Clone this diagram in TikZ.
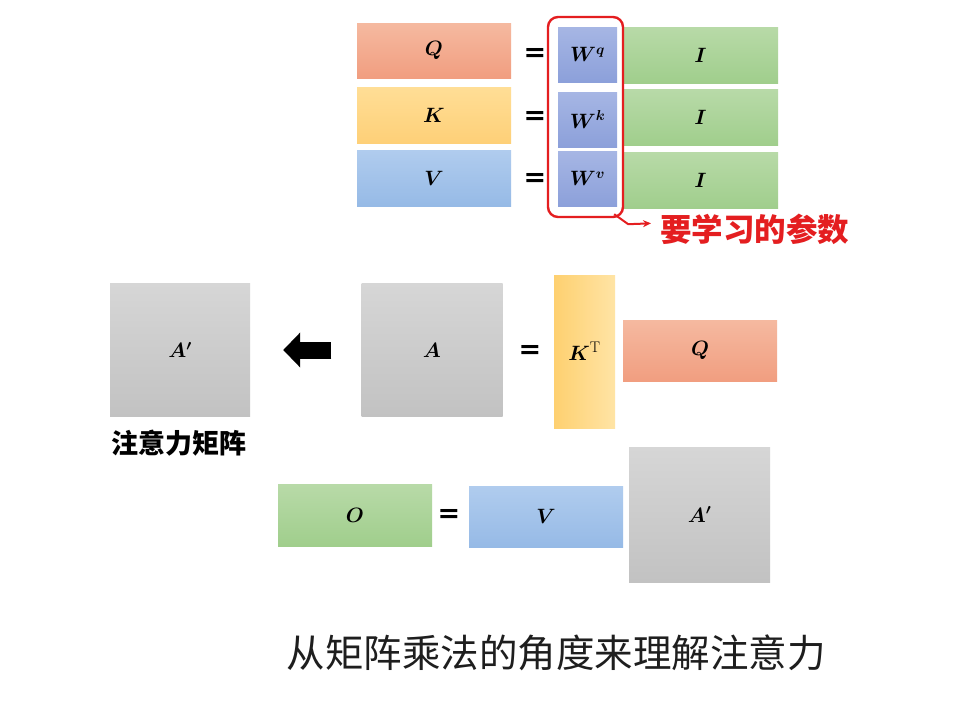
\documentclass[tikz,border=0pt]{standalone}
\usepackage{fontspec}
\usepackage{bm}
\usetikzlibrary{arrows.meta}
\newfontfamily\cjk{Noto Sans CJK SC}
\newfontfamily\eqfont{DejaVu Sans}
\definecolor{learnred}{RGB}{228,30,32}
\tikzset{
  mat/.style={inner sep=0pt, font=\fontsize{22}{24}\selectfont},
  qcol/.style={top color={rgb,255:red,245;green,185;blue,160}, bottom color={rgb,255:red,241;green,158;blue,128}},
  kcol/.style={top color={rgb,255:red,255;green,222;blue,150}, bottom color={rgb,255:red,254;green,208;blue,120}},
  vcol/.style={top color={rgb,255:red,176;green,204;blue,238}, bottom color={rgb,255:red,150;green,186;blue,230}},
  wcol/.style={top color={rgb,255:red,166;green,182;blue,228}, bottom color={rgb,255:red,140;green,160;blue,218}},
  icol/.style={top color={rgb,255:red,184;green,218;blue,168}, bottom color={rgb,255:red,160;green,206;blue,140}},
  gcol/.style={top color={rgb,255:red,214;green,214;blue,214}, bottom color={rgb,255:red,194;green,194;blue,194}},
  eqsign/.style={font=\eqfont\bfseries\fontsize{27}{27}\selectfont, inner sep=0pt},
  fatarrow/.style={line width=17pt, -{Triangle[length=17pt,width=34pt]}},
}
\begin{document}
\begin{tikzpicture}[x=1pt, y=-1pt]
	\fill[white] (0,0) rectangle (979,718);
	\useasboundingbox (0,0) rectangle (979,718);
	% Q, K, V = W I
	\node[mat, qcol, minimum width=154pt, minimum height=55pt] (q) at (434,50.5) {$\bm{Q}$};
	\node[mat, kcol, minimum width=154pt, minimum height=56pt] (k) at (434,115) {$\bm{K}$};
	\node[mat, vcol, minimum width=154pt, minimum height=56pt] (v) at (434,178) {$\bm{V}$};
	\node[eqsign] (eq1) at (535,55) {=};
	\node[eqsign] (eq2) at (535,118) {=};
	\node[eqsign] (eq3) at (535,180) {=};
	\node[mat, wcol, minimum width=59pt, minimum height=55pt] (wq) at (587.5,54.5) {$\bm{W}^{\bm{q}}$};
	\node[mat, wcol, minimum width=59pt, minimum height=55pt] (wk) at (587.5,119.5) {$\bm{W}^{\bm{k}}$};
	\node[mat, wcol, minimum width=59pt, minimum height=55pt] (wv) at (587.5,178.5) {$\bm{W}^{\bm{v}}$};
	\node[mat, icol, minimum width=155pt, minimum height=56pt] (iq) at (700.5,55) {$\bm{I}$};
	\node[mat, icol, minimum width=155pt, minimum height=56pt] (ik) at (700.5,117.5) {$\bm{I}$};
	\node[mat, icol, minimum width=155pt, minimum height=56pt] (iv) at (700.5,180) {$\bm{I}$};
	\node[draw=learnred, line width=2.4pt, rounded corners=10pt, minimum width=75pt, minimum height=200pt] (frame) at (585.5,117) {};
	\node[anchor=west, inner sep=0pt, text=learnred, font=\cjk\bfseries\fontsize{31.5}{31.5}\selectfont] (learn) at (660,229) {要学习的参数};
	\draw[learnred, line width=2pt, shorten >=9pt, -{Stealth[length=8pt,width=7pt]}] ([xshift=-10pt,yshift=4pt]frame.south east) -- ++(14,10) -- ([yshift=6pt]learn.west);
	% A = K^T Q
	\node[mat, gcol, minimum width=140pt, minimum height=133pt] (ap) at (180,350) {$\bm{A'}$};
	\node[font=\cjk\bfseries\fontsize{27}{27}\selectfont, inner sep=0pt] (aplabel) at (179,443) {注意力矩阵};
	\node[mat, gcol, minimum width=141pt, minimum height=133pt] (a) at (432,350) {$\bm{A}$};
	\draw[fatarrow, shorten <=30pt, shorten >=33pt] (a) -- (ap);
	\node[eqsign] (eq4) at (530,352) {=};
	\node[mat, kcol, left color={rgb,255:red,254;green,208;blue,112}, right color={rgb,255:red,255;green,228;blue,165}, minimum width=61pt, minimum height=153pt] (kt) at (584.5,351.5) {$\bm{K}^{\mathrm{T}}$};
	\node[mat, qcol, minimum width=154pt, minimum height=61pt] (q2) at (700,350.5) {$\bm{Q}$};
	% O = V A'
	\node[mat, icol, minimum width=154pt, minimum height=62pt] (o) at (355,515) {$\bm{O}$};
	\node[eqsign] (eq5) at (449,516) {=};
	\node[mat, vcol, minimum width=154pt, minimum height=61pt] (v2) at (546,516.5) {$\bm{V}$};
	\node[mat, gcol, minimum width=141pt, minimum height=135pt] (ap2) at (699.5,514.5) {$\bm{A'}$};
	\node[font=\cjk\fontsize{38.5}{38.5}\selectfont, text={rgb,255:red,30;green,30;blue,30}, inner sep=0pt] (caption) at (556,653) {从矩阵乘法的角度来理解注意力};
\end{tikzpicture}
\end{document}
